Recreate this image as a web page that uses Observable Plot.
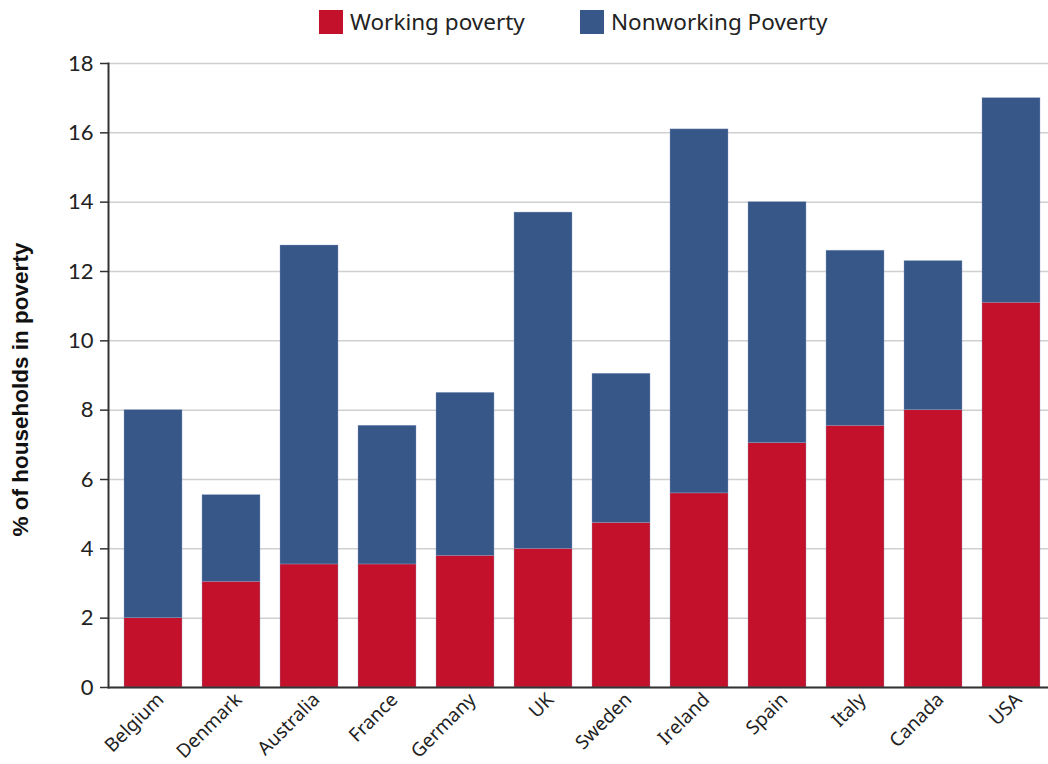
<!DOCTYPE html>
<html>
<head>
<meta charset="utf-8">
<script src="https://cdn.jsdelivr.net/npm/d3@7"></script>
<script src="https://cdn.jsdelivr.net/npm/@observablehq/plot@0.6"></script>
<style>
  html, body { margin: 0; padding: 0; background: #fff; }
  #wrap { position: relative; width: 1048px; height: 764px; overflow: hidden; }
  #legend { position: absolute; left: 0; top: 0; height: 40px; width: 1048px; font-family: "Noto Sans", sans-serif; font-size: 22.5px; color: #222; }
  .item { position: absolute; top: 6px; display: flex; align-items: center; }
  .sw { width: 24px; height: 24px; margin-right: 7px; }
  #chart { position: absolute; left: 0; top: 40px; }
</style>
</head>
<body>
<div id="wrap">
  <div id="legend"></div>
  <div id="chart"></div>
</div>
<script>
const countries = ["Belgium","Denmark","Australia","France","Germany","UK","Sweden","Ireland","Spain","Italy","Canada","USA"];
const working    = [2.0, 3.05, 3.55, 3.55, 3.8, 4.0, 4.75, 5.6, 7.05, 7.55, 8.0, 11.1];
const nonworking = [6.0, 2.5, 9.2, 4.0, 4.7, 9.7, 4.3, 10.5, 6.95, 5.05, 4.3, 5.9];
const seriesNames = ["Working poverty", "Nonworking Poverty"];
const seriesColors = ["#c3102b", "#375789"];
const yTicks = [0, 2, 4, 6, 8, 10, 12, 14, 16, 18];

const data = [];
countries.forEach((c, i) => {
  data.push({country: c, series: seriesNames[0], value: working[i]});
  data.push({country: c, series: seriesNames[1], value: nonworking[i]});
});

// legend
const legend = document.getElementById("legend");
const legendX = [319, 580];
seriesNames.forEach((s, i) => {
  const d = document.createElement("div");
  d.className = "item";
  d.style.left = legendX[i] + "px";
  d.innerHTML = `<div class="sw" style="background:${seriesColors[i]}"></div><span>${s}</span>`;
  legend.appendChild(d);
});

const chart = Plot.plot({
  width: 1048,
  height: 724,
  marginLeft: 108,
  marginRight: 0,
  marginTop: 23,
  marginBottom: 77,
  style: {fontFamily: "Lato, sans-serif", background: "#fff"},
  x: {domain: countries, paddingInner: 0.258, paddingOuter: 0.12, align: 0.68},
  y: {domain: [0, 18]},
  color: {domain: seriesNames, range: seriesColors},
  marks: [
    Plot.gridY(yTicks, {stroke: "#cfcfcf", strokeOpacity: 1, strokeWidth: 1.5}),
    Plot.barY(data, {x: "country", y: "value", fill: "series", stroke: "#8fa3c4", strokeWidth: 0.6, strokeOpacity: 0.6, order: seriesNames}),
    Plot.axisY(yTicks, {tickSize: 8, tickPadding: 7, fontSize: 22, stroke: "#333", strokeWidth: 1.5, fill: "#222",
      label: "% of households in poverty", labelAnchor: "center", labelArrow: "none", labelOffset: 96}),
    Plot.axisX({tickSize: 0, tickRotate: -45, tickPadding: 9, dx: 7, fontSize: 19, fill: "#222", fontFamily: "Noto Sans, sans-serif", label: null}),
    Plot.ruleY([0], {stroke: "#333", strokeWidth: 2}),
    Plot.frame({anchor: "left", stroke: "#333", strokeWidth: 2})
  ]
});
// style y label
chart.querySelectorAll("g[aria-label='y-axis label'] text, g[aria-label='y-axis label']").forEach(el => {
  el.setAttribute("font-family", "Liberation Sans, Arial, sans-serif");
  el.setAttribute("font-weight", "bold");
  el.setAttribute("font-size", "22.5");
  el.setAttribute("fill", "#111");
});
chart.querySelectorAll("g[aria-label='y-axis label'] text").forEach(el => el.setAttribute("dx", "-14"));
document.getElementById("chart").appendChild(chart);
</script>
</body>
</html>
